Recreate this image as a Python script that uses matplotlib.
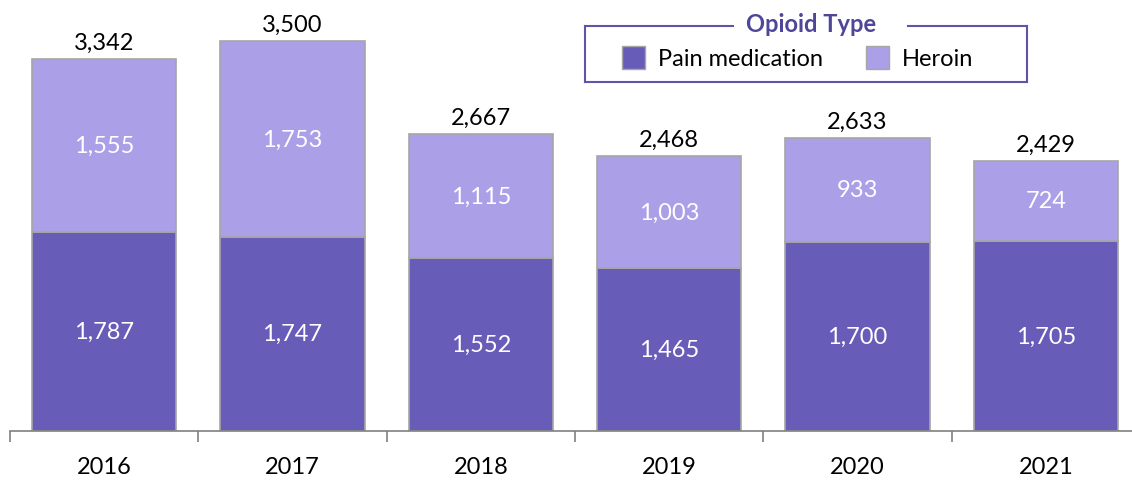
import matplotlib
matplotlib.use("Agg")
import matplotlib.pyplot as plt
from matplotlib.patches import Rectangle
from matplotlib.lines import Line2D
import numpy as np

years = ["2016", "2017", "2018", "2019", "2020", "2021"]
pain = [1787, 1747, 1552, 1465, 1700, 1705]
heroin = [1555, 1753, 1115, 1003, 933, 724]
totals = [3342, 3500, 2667, 2468, 2633, 2429]
series_names = ["Pain medication", "Heroin"]
legend_title = "Opioid Type"

c_pain = "#675DB8"
c_her = "#AB9FE8"
c_edge = "#A6A6A6"
c_title = "#4E4699"

plt.rcParams['font.family'] = ['Lato', 'DejaVu Sans']
FS = 17

W, H = 1132, 481
fig = plt.figure(figsize=(W/100, H/100), dpi=100)
ax = fig.add_axes([10/W, (H-432)/H, 1130/W, 432/H])

x = np.arange(len(years))
bw = 0.765
ax.bar(x, pain, bw, color=c_pain, edgecolor=c_edge, linewidth=1.2)
ax.bar(x, heroin, bw, bottom=pain, color=c_her, edgecolor=c_edge, linewidth=1.2)

for i in range(len(years)):
    ax.text(x[i], pain[i]/2, f"{pain[i]:,}", ha='center', va='center', color='white', fontsize=FS)
    ax.text(x[i], pain[i] + heroin[i]/2, f"{heroin[i]:,}", ha='center', va='center', color='white', fontsize=FS)
    ax.text(x[i], totals[i] + 55, f"{totals[i]:,}", ha='center', va='bottom', color='black', fontsize=FS)

ax.set_xlim(-0.5, len(years) - 0.5)
ax.set_ylim(0, 3881)
for s in ['top', 'right', 'left']:
    ax.spines[s].set_visible(False)
ax.spines['bottom'].set_color('#808080')
ax.spines['bottom'].set_linewidth(1.2)
ax.set_yticks([])
ax.set_xticks(np.arange(-0.5, len(years)), minor=False)
ax.set_xticklabels([])
ax.tick_params(axis='x', which='major', length=8, color='#808080', width=1.2)
ax.set_xticks(x, minor=True)
ax.set_xticklabels(years, minor=True, fontsize=FS)
ax.tick_params(axis='x', which='minor', length=0, pad=18)

# legend drawn in figure pixel coords
def fx(px): return px / W
def fy(py): return 1 - py / H

lc = "#5E55A8"
lw = 1.5
fig.add_artist(Line2D([fx(585), fx(585)], [fy(27), fy(83)], color=lc, lw=lw))
fig.add_artist(Line2D([fx(1027), fx(1027)], [fy(27), fy(83)], color=lc, lw=lw))
fig.add_artist(Line2D([fx(585), fx(1027)], [fy(83), fy(83)], color=lc, lw=lw))
fig.add_artist(Line2D([fx(585), fx(733)], [fy(27), fy(27)], color=lc, lw=lw))
fig.add_artist(Line2D([fx(908), fx(1027)], [fy(27), fy(27)], color=lc, lw=lw))
fig.text(fx(811), fy(24), legend_title, ha='center', va='center', color=c_title,
         fontsize=FS, fontweight='bold')
for name, col, sx in [(series_names[0], c_pain, 622), (series_names[1], c_her, 866)]:
    fig.add_artist(Rectangle((fx(sx), fy(70)), 23/W, 23/H, facecolor=col,
                             edgecolor=c_edge, lw=1, transform=fig.transFigure))
    fig.text(fx(sx + 36), fy(59), name, ha='left', va='center', fontsize=FS)

fig.savefig("out.png", dpi=100)
